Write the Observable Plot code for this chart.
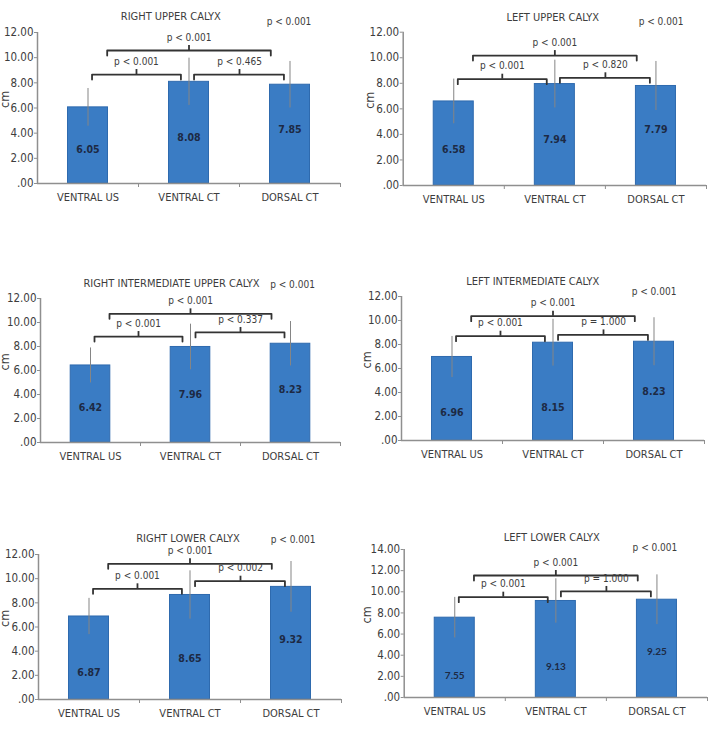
<!DOCTYPE html>
<html>
<head>
<meta charset="utf-8">
<script src="https://cdn.jsdelivr.net/npm/d3@7"></script>
<script src="https://cdn.jsdelivr.net/npm/@observablehq/plot@0.6"></script>
<style>
  body { margin: 0; background: #fff; }
  #chart { position: relative; width: 713px; height: 740px; overflow: hidden; background: #fff; }
  #chart svg { position: absolute; overflow: visible; }
</style>
</head>
<body>
<div id="chart"></div>
<script>
// Categories shared by every panel
const groups = ["VENTRAL US", "VENTRAL CT", "DORSAL CT"];

// Mean length (cm) and standard deviation per group
const meanRightUpper = [6.05, 8.08, 7.85];
const sdRightUpper = [1.50, 1.88, 1.85];
const meanLeftUpper = [6.58, 7.94, 7.79];
const sdLeftUpper = [1.75, 1.87, 1.92];
const meanRightInterUpper = [6.42, 7.96, 8.23];
const sdRightInterUpper = [1.46, 1.90, 1.85];
const meanLeftInter = [6.96, 8.15, 8.23];
const sdLeftInter = [1.71, 1.95, 2.00];
const meanRightLower = [6.87, 8.65, 9.32];
const sdRightLower = [1.50, 2.00, 2.10];
const meanLeftLower = [7.55, 9.13, 9.25];
const sdLeftLower = [1.92, 2.10, 2.35];

// Comparisons: US vs CT, CT vs dorsal CT, US vs dorsal CT, overall
const pRightUpper = ["p < 0.001", "p < 0.465", "p < 0.001", "p < 0.001"];
const pLeftUpper = ["p < 0.001", "p < 0.820", "p < 0.001", "p < 0.001"];
const pRightInterUpper = ["p < 0.001", "p < 0.337", "p < 0.001", "p < 0.001"];
const pLeftInter = ["p < 0.001", "p = 1.000", "p < 0.001", "p < 0.001"];
const pRightLower = ["p < 0.001", "p < 0.002", "p < 0.001", "p < 0.001"];
const pLeftLower = ["p < 0.001", "p = 1.000", "p < 0.001", "p < 0.001"];

const FONT = "'DejaVu Sans Condensed', 'Liberation Sans Narrow', Roboto, sans-serif";
const TEXT = "#3d3d3d";
const AXIS = "#8f8f8f";

// Panel layout: placement, margins, bracket heights (cm) and label anchors
const panels = [
  { title: "RIGHT UPPER CALYX", mean: meanRightUpper, sd: sdRightUpper, pv: pRightUpper,
    left: 0, top: 0, width: 356, height: 230, mt: 32, mb: 47, ml: 37, mr: 16, ymax: 12,
    levels: [8.66, 8.66, 10.57], labelAt: [2.7, 3.68, 4.27],
    titleX: 0.82, titleY: 16, cornerX: 1.99, cornerY: 21, cmX: 4 },
  { title: "LEFT UPPER CALYX", mean: meanLeftUpper, sd: sdLeftUpper, pv: pLeftUpper,
    left: 356, top: 0, width: 357, height: 230, mt: 31.7, mb: 45, ml: 46.7, mr: 7, ymax: 12,
    levels: [8.32, 8.43, 10.17], labelAt: [2.82, 3.58, 4.36],
    titleX: 0.98, titleY: 17, cornerX: 2.05, cornerY: 21, cmX: 13 },
  { title: "RIGHT INTERMEDIATE UPPER CALYX", mean: meanRightInterUpper, sd: sdRightInterUpper, pv: pRightInterUpper,
    left: 0, top: 265, width: 356, height: 230, mt: 33, mb: 53, ml: 40, mr: 16, ymax: 12,
    levels: [8.83, 9.17, 10.72], labelAt: [2.94, 3.97, 4.42],
    titleX: 0.81, titleY: 18, cornerX: 2.02, cornerY: 19, cmX: 4 },
  { title: "LEFT INTERMEDIATE CALYX", mean: meanLeftInter, sd: sdLeftInter, pv: pLeftInter,
    left: 356, top: 265, width: 357, height: 230, mt: 31, mb: 55, ml: 45, mr: 9, ymax: 12,
    levels: [8.69, 8.80, 10.36], labelAt: [2.36, 2.72, 4.11],
    titleX: 0.80, titleY: 16, cornerX: 2.0, cornerY: 26.7, cmX: 10 },
  { title: "RIGHT LOWER CALYX", mean: meanRightLower, sd: sdRightLower, pv: pRightLower,
    left: 0, top: 520, width: 356, height: 220, mt: 34, mb: 41, ml: 38, mr: 15, ymax: 12,
    levels: [9.16, 9.79, 11.23], labelAt: [2.2, 3.42, 4.97],
    titleX: 0.98, titleY: 18, cornerX: 2.02, cornerY: 19, cmX: 4 },
  { title: "LEFT LOWER CALYX", mean: meanLeftLower, sd: sdLeftLower, pv: pLeftLower,
    left: 356, top: 520, width: 357, height: 220, mt: 29, mb: 43, ml: 47.7, mr: 6, ymax: 14,
    levels: [9.49, 10.03, 11.54], labelAt: [2.02, 2.87, 4.35],
    titleX: 0.96, titleY: 17, cornerX: 1.98, cornerY: 27.7, cmX: 10,
    valueFont: "Lato, 'Open Sans', sans-serif", valueSize: 10 }
];

// Horizontal extent and centre tick of each bracket, in category units
const spans = [[0.04, 0.92, 0.48], [1.05, 1.94, 1.5], [0.19, 1.81, 1.0]];

function drawPanel(p) {
  const rows = groups.map((g, i) => ({ i, g, mean: p.mean[i], sd: p.sd[i], at: p.labelAt[i] }));
  const ppu = (p.height - p.mt - p.mb) / p.ymax;
  const drop = 5 / ppu, rise = 5 / ppu;
  const brackets = spans.map(([a, b, t], k) => ({ k, a, b, t, h: p.levels[k], label: p.pv[k] }));
  const pts = brackets.flatMap(b => [
    { k: b.k, x: b.a, y: b.h - drop }, { k: b.k, x: b.a, y: b.h },
    { k: b.k, x: b.b, y: b.h }, { k: b.k, x: b.b, y: b.h - drop }
  ]);
  const yTicks = d3.range(0, p.ymax + 0.001, 2);

  const svg = Plot.plot({
    width: p.width, height: p.height,
    marginTop: p.mt, marginBottom: p.mb, marginLeft: p.ml, marginRight: p.mr,
    x: { domain: [-0.5, 2.5], axis: null },
    y: { domain: [0, p.ymax], axis: null },
    style: { fontFamily: FONT, color: TEXT, background: "transparent", overflow: "visible" },
    marks: [
      Plot.rectY(rows, { x1: d => d.i - 0.198, x2: d => d.i + 0.198, y1: 0, y2: "mean",
        fill: "#3a7cc4", stroke: "#2e6aae", strokeWidth: 1 }),
      Plot.ruleX(rows, { x: "i", y1: d => d.mean - d.sd, y2: d => d.mean + d.sd,
        stroke: "#858585", strokeWidth: 1 }),
      Plot.text(rows, { x: "i", y: "at", text: d => d.mean.toFixed(2),
        fontWeight: "bold", fill: "#1d2a44",
        fontSize: p.valueSize || 10.5, fontFamily: p.valueFont || FONT }),
      Plot.ruleY([0], { stroke: AXIS, strokeWidth: 1.5 }),
      Plot.ruleX([-0.5], { stroke: AXIS, strokeWidth: 1.5 }),
      Plot.axisY({ ticks: yTicks, tickSize: 3, tickPadding: 1, fontSize: 11.5,
        stroke: AXIS, fill: TEXT, label: null,
        tickFormat: d => d === 0 ? ".00" : d.toFixed(2) }),
      Plot.axisX({ ticks: [0.5, 1.5, 2.5], tickSize: 4, stroke: AXIS, label: null,
        tickFormat: () => "" }),
      Plot.axisX({ ticks: [0, 1, 2], tickSize: 0, tickPadding: 10, fontSize: 11, fill: TEXT,
        label: null, tickFormat: i => groups[i] }),
      Plot.line(pts, { x: "x", y: "y", z: "k", stroke: "#333", strokeWidth: 1.8 }),
      Plot.ruleX(brackets, { x: "t", y1: "h", y2: d => d.h + rise, stroke: "#333", strokeWidth: 1.8 }),
      Plot.text(brackets, { x: "t", y: "h", dy: -13, text: "label", fontSize: 10, fill: TEXT }),
      Plot.text([p.title], { x: p.titleX, frameAnchor: "top", lineAnchor: "middle",
        dy: p.titleY - p.mt, text: d => d, fontSize: 11, fill: TEXT }),
      Plot.text([p.pv[3]], { x: p.cornerX, frameAnchor: "top", lineAnchor: "middle",
        dy: p.cornerY - p.mt, text: d => d, fontSize: 10, fill: TEXT }),
      Plot.text(["cm"], { frameAnchor: "left", dx: p.cmX - p.ml, rotate: -90,
        lineAnchor: "middle", text: d => d, fontSize: 12.5, fill: TEXT })
    ]
  });
  svg.style.left = p.left + "px";
  svg.style.top = p.top + "px";
  document.getElementById("chart").appendChild(svg);
}

panels.forEach(drawPanel);
</script>
</body>
</html>
